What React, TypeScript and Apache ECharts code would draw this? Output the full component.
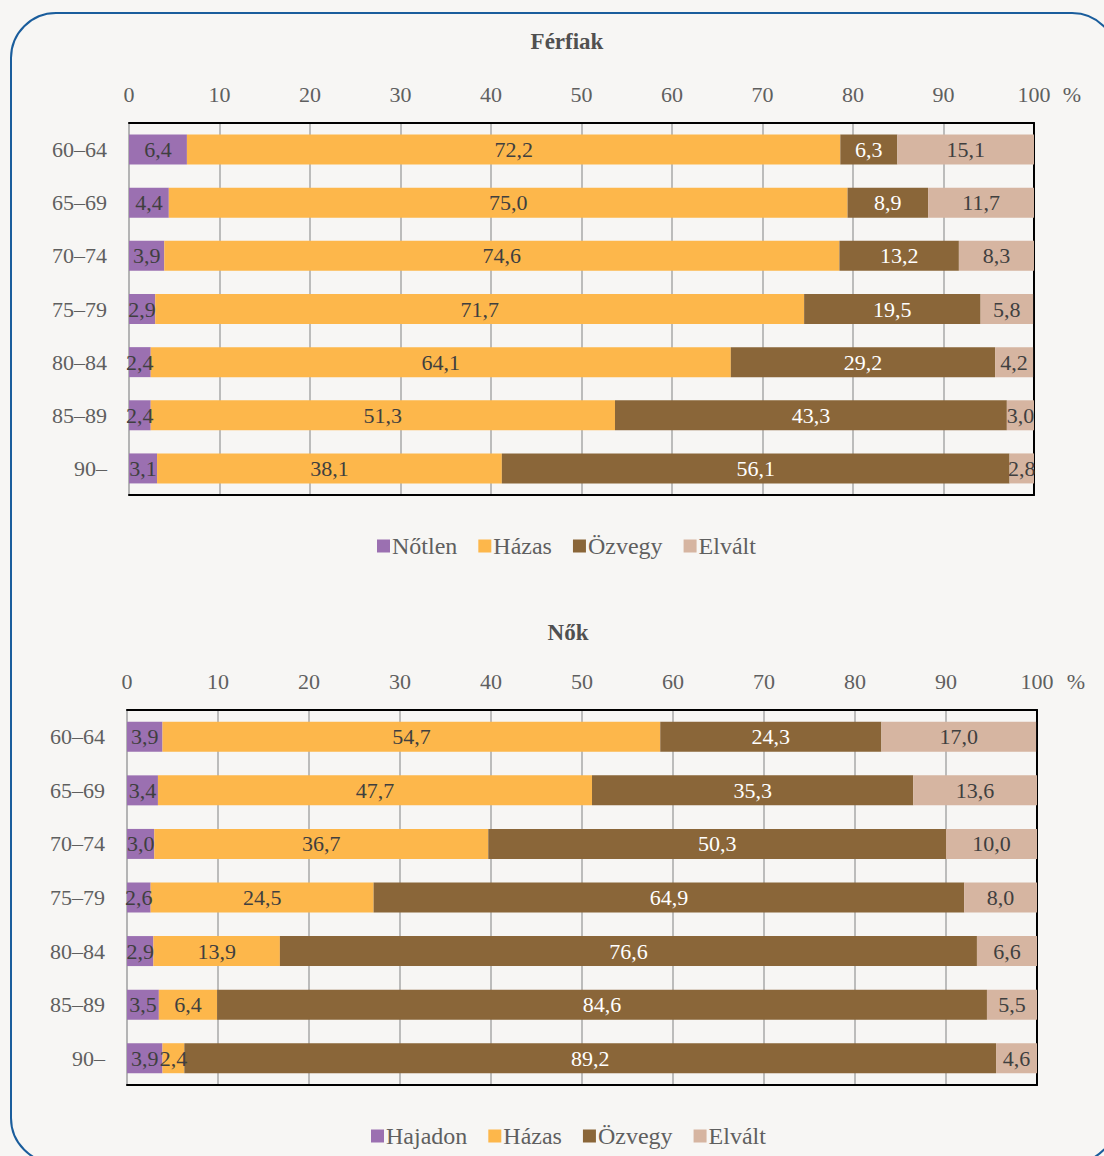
import React, { useEffect, useRef } from "react";
import * as echarts from "echarts";

const categories = ["60–64", "65–69", "70–74", "75–79", "80–84", "85–89", "90–"];
const xTicks = [0, 10, 20, 30, 40, 50, 60, 70, 80, 90, 100];

const menTitle = "Férfiak";
const womenTitle = "Nők";
const menSeriesNames = ["Nőtlen", "Házas", "Özvegy", "Elvált"];
const womenSeriesNames = ["Hajadon", "Házas", "Özvegy", "Elvált"];

const menNotlen = [6.4, 4.4, 3.9, 2.9, 2.4, 2.4, 3.1];
const menHazas = [72.2, 75.0, 74.6, 71.7, 64.1, 51.3, 38.1];
const menOzvegy = [6.3, 8.9, 13.2, 19.5, 29.2, 43.3, 56.1];
const menElvalt = [15.1, 11.7, 8.3, 5.8, 4.2, 3.0, 2.8];

const womenHajadon = [3.9, 3.4, 3.0, 2.6, 2.9, 3.5, 3.9];
const womenHazas = [54.7, 47.7, 36.7, 24.5, 13.9, 6.4, 2.4];
const womenOzvegy = [24.3, 35.3, 50.3, 64.9, 76.6, 84.6, 89.2];
const womenElvalt = [17.0, 13.6, 10.0, 8.0, 6.6, 5.5, 4.6];

const colors = ["#9b70b1", "#fdb74b", "#8a6639", "#d6b5a1"];
const labelColors = ["#3f3f3f", "#3f3f3f", "#ffffff", "#3f3f3f"];
const FONT = "Liberation Serif";
const TEXT = "#5f5f5f";

export default function App() {
  const ref = useRef<HTMLDivElement>(null);
  useEffect(() => {
    document.body.style.margin = "0";
    document.body.style.background = "#f7f6f4";
    if (!ref.current) return;
    const chart = echarts.init(ref.current, null, { renderer: "svg" });

    const grids = [
      { left: 129, right: 70, top: 123, height: 372 },
      { left: 127, right: 67, top: 710, height: 375 },
    ];

    const xAxes: any[] = [];
    const yAxes: any[] = [];
    grids.forEach((_, gi) => {
      xAxes.push({
        type: "value",
        gridIndex: gi,
        position: "top",
        min: 0,
        max: 100,
        interval: 10,
        axisLine: { show: true, onZero: false, lineStyle: { color: "#000", width: 2 } },
        axisTick: { show: false },
        axisLabel: {
          color: TEXT,
          fontFamily: FONT,
          fontSize: 22,
          margin: 18,
          formatter: (v: number) => (xTicks.includes(v) ? String(v) : ""),
        },
        splitLine: { show: true, lineStyle: { color: "#a9a9a9", width: 1.5 } },
      });
      xAxes.push({
        type: "value",
        gridIndex: gi,
        position: "bottom",
        min: 0,
        max: 100,
        interval: 10,
        axisLine: { show: true, onZero: false, lineStyle: { color: "#000", width: 2 } },
        axisTick: { show: false },
        axisLabel: { show: false },
        splitLine: { show: false },
      });
      yAxes.push({
        type: "category",
        gridIndex: gi,
        data: categories,
        inverse: true,
        position: "left",
        axisLine: { show: true, onZero: false, lineStyle: { color: "#b4b4b4", width: 2 } },
        axisTick: { show: false },
        axisLabel: { color: TEXT, fontFamily: FONT, fontSize: 22, margin: 22 },
      });
      yAxes.push({
        type: "category",
        gridIndex: gi,
        data: categories,
        inverse: true,
        position: "right",
        axisLine: { show: true, onZero: false, lineStyle: { color: "#000", width: 2 } },
        axisTick: { show: false },
        axisLabel: { show: false },
      });
    });

    const mkSeries = (names: string[], datas: number[][], gi: number) =>
      datas.map((d, i) => ({
        name: names[i],
        type: "bar",
        stack: "s" + gi,
        xAxisIndex: gi * 2,
        yAxisIndex: gi * 2,
        data: d,
        barWidth: 30,
        itemStyle: { color: colors[i] },
        label: {
          show: true,
          position: "inside",
          color: labelColors[i],
          fontFamily: FONT,
          fontSize: 22,
          formatter: (p: any) => Number(p.value).toFixed(1).replace(".", ","),
        },
      }));

    const legendCommon = {
      orient: "horizontal",
      itemWidth: 13,
      itemHeight: 13,
      itemGap: 21,
      icon: "rect",
      textStyle: { color: TEXT, fontFamily: FONT, fontSize: 24, padding: [0, 0, 0, -3] },
    };

    chart.setOption({
      animation: false,
      backgroundColor: "#f7f6f4",
      title: [
        {
          text: menTitle,
          left: 562,
          top: 25,
          textAlign: "center",
          textStyle: { color: "#505050", fontFamily: FONT, fontSize: 23, fontWeight: "bold" },
        },
        {
          text: womenTitle,
          left: 563,
          top: 616,
          textAlign: "center",
          textStyle: { color: "#505050", fontFamily: FONT, fontSize: 23, fontWeight: "bold" },
        },
      ],
      legend: [
        { ...legendCommon, data: menSeriesNames, left: 372, top: 529 },
        { ...legendCommon, data: womenSeriesNames, left: 366, top: 1119 },
      ],
      grid: grids,
      xAxis: xAxes,
      yAxis: yAxes,
      series: [
        ...mkSeries(menSeriesNames, [menNotlen, menHazas, menOzvegy, menElvalt], 0),
        ...mkSeries(womenSeriesNames, [womenHajadon, womenHazas, womenOzvegy, womenElvalt], 1),
      ],
      graphic: [
        {
          type: "rect",
          shape: { x: 11, y: 13, width: 1106, height: 1150, r: 45 },
          style: { fill: "none", stroke: "#1a5d9c", lineWidth: 2 },
          silent: true,
        },
        {
          type: "text",
          x: 1072,
          y: 94,
          style: { text: "%", fill: TEXT, font: `22px ${FONT}`, align: "center", verticalAlign: "middle" },
        },
        {
          type: "text",
          x: 1076,
          y: 681,
          style: { text: "%", fill: TEXT, font: `22px ${FONT}`, align: "center", verticalAlign: "middle" },
        },
      ],
    });
    return () => chart.dispose();
  }, []);
  return <div ref={ref} style={{ width: 1104, height: 1156 }} />;
}
